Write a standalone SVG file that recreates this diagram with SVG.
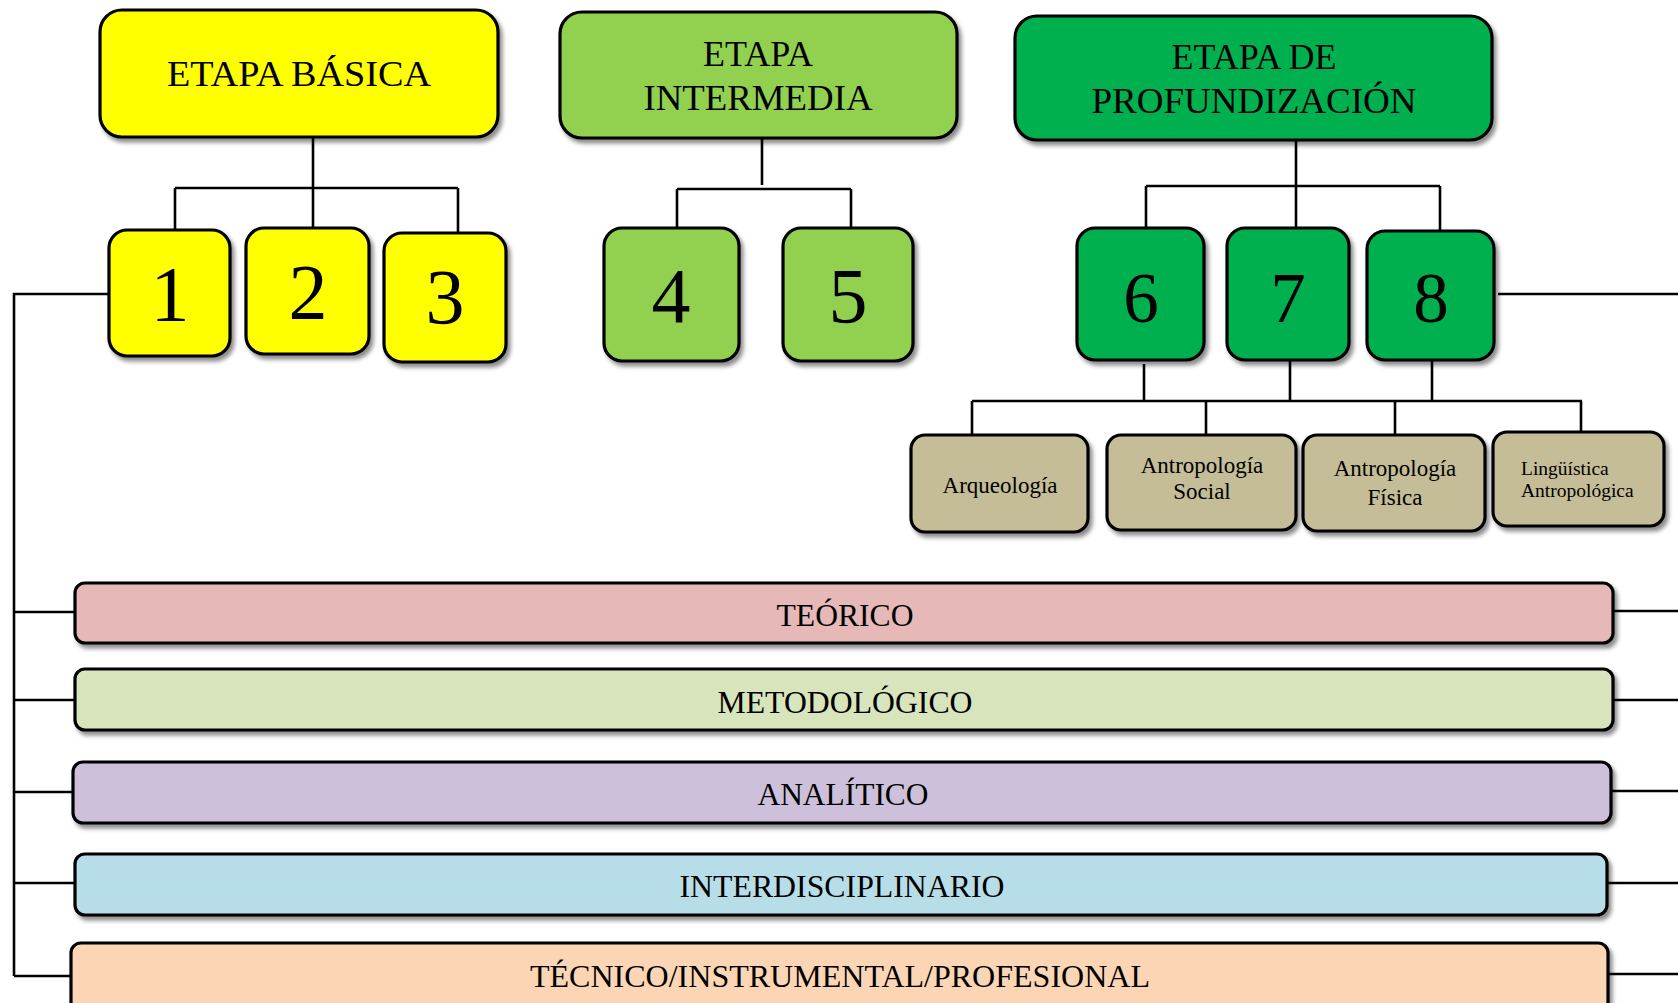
<svg xmlns="http://www.w3.org/2000/svg" width="1678" height="1003" viewBox="0 0 1678 1003">
<style>
.box{stroke:#000;stroke-width:3.2;filter:url(#sh)}
.ln{fill:none;stroke:#000;stroke-width:2.6}
text{font-family:"Liberation Serif","Times New Roman",serif;fill:#000}
.h{font-size:36px;text-anchor:middle}
.n{font-size:78px;text-anchor:middle}
.n2{font-size:71px;text-anchor:middle}
.s{font-size:23px;text-anchor:middle}
.l{font-size:19.5px}
.b{font-size:31px;text-anchor:middle}
.y{fill:#FFFF00}.g1{fill:#92D050}.g2{fill:#00B050}.t{fill:#C4BD97}
.c1{fill:#E6B8B7}.c2{fill:#D8E4BC}.c3{fill:#CCC0DA}.c4{fill:#B7DEE8}.c5{fill:#FCD5B4}
</style>
<defs>
<filter id="sh" x="-10%" y="-10%" width="130%" height="140%">
<feDropShadow dx="3" dy="4" stdDeviation="2.2" flood-color="#000" flood-opacity="0.45"/>
</filter>
</defs>
<rect width="1678" height="1003" fill="#fff"/>
<g id="connectors">
<path class="ln" d="M313,137 V188 M175,188 H458 M175,188 V230 M313,188 V228 M458,188 V232"/>
<path class="ln" d="M762,138 V185 M677,189 H851 M677,189 V228 M851,189 V228"/>
<path class="ln" d="M1296,140 V228 M1146,186 H1440 M1146,186 V228 M1440,186 V231"/>
<path class="ln" d="M1144,364 V401 M1290,360 V401 M1432,360 V401 M972,401 H1582 M972,401 V436 M1206,401 V436 M1395,401 V434 M1581,401 V432"/>
<path class="ln" d="M109,294 H14 V976 M14,612 H75 M14,700 H75 M14,792 H73 M14,883 H75 M14,976 H71"/>
<path class="ln" d="M1498,294 H1678 M1613,611 H1678 M1613,700 H1678 M1611,791 H1678 M1607,883 H1678 M1608,974 H1678"/>
</g>
<g id="etapa-basica"><rect class="box y" x="100" y="10" width="398" height="127" rx="22"/><text class="h" x="299" y="86" textLength="264" lengthAdjust="spacingAndGlyphs">ETAPA BÁSICA</text></g>
<g id="etapa-intermedia"><rect class="box g1" x="560" y="12" width="397" height="126" rx="22"/><text class="h" x="758" y="66">ETAPA</text><text class="h" x="758" y="110" textLength="229" lengthAdjust="spacingAndGlyphs">INTERMEDIA</text></g>
<g id="etapa-profundizacion"><rect class="box g2" x="1015" y="16" width="477" height="124" rx="22"/><text class="h" x="1254" y="69">ETAPA DE</text><text class="h" x="1254" y="113" textLength="325" lengthAdjust="spacingAndGlyphs">PROFUNDIZACIÓN</text></g>
<g id="n1"><rect class="box y" x="109" y="230" width="121" height="126" rx="18"/><text class="n" x="170" y="320">1</text></g>
<g id="n2"><rect class="box y" x="246" y="228" width="123" height="126" rx="18"/><text class="n" x="308" y="318">2</text></g>
<g id="n3"><rect class="box y" x="384" y="233" width="122" height="129" rx="18"/><text class="n" x="445" y="323">3</text></g>
<g id="n4"><rect class="box g1" x="604" y="228" width="135" height="133" rx="18"/><text class="n" x="671" y="322">4</text></g>
<g id="n5"><rect class="box g1" x="783" y="228" width="130" height="133" rx="18"/><text class="n" x="848" y="322">5</text></g>
<g id="n6"><rect class="box g2" x="1077" y="228" width="127" height="132" rx="18"/><text class="n2" x="1141" y="322">6</text></g>
<g id="n7"><rect class="box g2" x="1227" y="228" width="122" height="132" rx="18"/><text class="n2" x="1288" y="322">7</text></g>
<g id="n8"><rect class="box g2" x="1367" y="231" width="127" height="129" rx="18"/><text class="n2" x="1431" y="322">8</text></g>
<g id="arqueologia"><rect class="box t" x="911" y="435" width="177" height="97" rx="14"/><text class="s" x="1000" y="493">Arqueología</text></g>
<g id="antropologia-social"><rect class="box t" x="1107" y="435" width="189" height="95" rx="14"/><text class="s" x="1202" y="473">Antropología</text><text class="s" x="1202" y="499">Social</text></g>
<g id="antropologia-fisica"><rect class="box t" x="1303" y="435" width="182" height="96" rx="14"/><text class="s" x="1395" y="476">Antropología</text><text class="s" x="1395" y="505">Física</text></g>
<g id="linguistica"><rect class="box t" x="1493" y="432" width="171" height="94" rx="14"/><text class="l" x="1521" y="475">Lingüística</text><text class="l" x="1521" y="497">Antropológica</text></g>
<g id="teorico"><rect class="box c1" x="75" y="583" width="1538" height="60" rx="10"/><text class="b" x="845" y="626" textLength="137" lengthAdjust="spacingAndGlyphs">TEÓRICO</text></g>
<g id="metodologico"><rect class="box c2" x="75" y="669" width="1538" height="61" rx="10"/><text class="b" x="845" y="713" textLength="255" lengthAdjust="spacingAndGlyphs">METODOLÓGICO</text></g>
<g id="analitico"><rect class="box c3" x="73" y="762" width="1538" height="61" rx="10"/><text class="b" x="843" y="805" textLength="171" lengthAdjust="spacingAndGlyphs">ANALÍTICO</text></g>
<g id="interdisciplinario"><rect class="box c4" x="75" y="854" width="1532" height="61" rx="10"/><text class="b" x="842" y="897" textLength="325" lengthAdjust="spacingAndGlyphs">INTERDISCIPLINARIO</text></g>
<g id="tecnico"><rect class="box c5" x="71" y="943" width="1537" height="75" rx="10"/><text class="b" x="840" y="987" textLength="620" lengthAdjust="spacingAndGlyphs">TÉCNICO/INSTRUMENTAL/PROFESIONAL</text></g>
</svg>
